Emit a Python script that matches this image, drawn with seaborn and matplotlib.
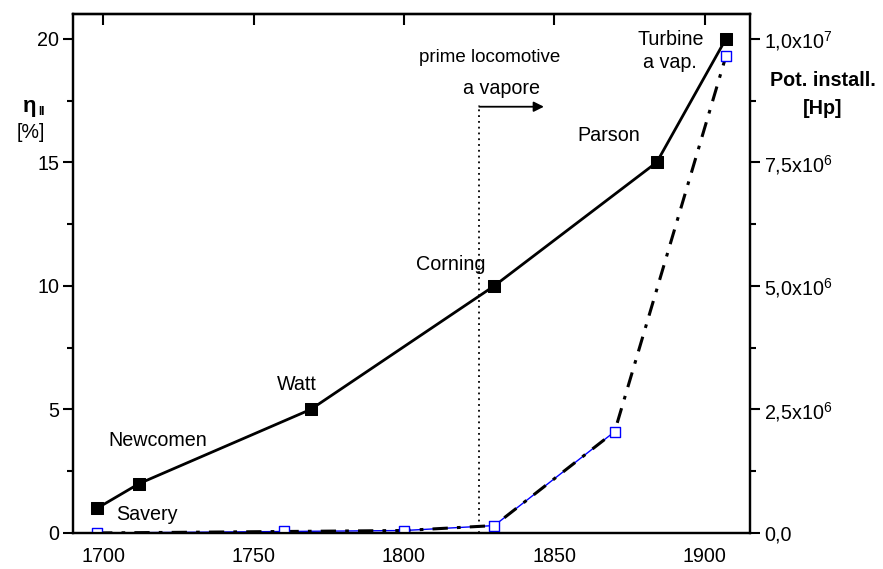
import matplotlib
matplotlib.use("Agg")
import matplotlib.pyplot as plt
import matplotlib.ticker as mticker
import pandas as pd
import seaborn as sns

# efficiency of steam engines (left axis, %)
eff_years = [1698, 1712, 1769, 1830, 1884, 1907]
eff_values = [1, 2, 5, 10, 15, 20]
eff_names = ["Savery", "Newcomen", "Watt", "Corning", "Parson", "Turbine\na vap."]

# installed power (right axis, Hp)
pow_years = [1698, 1760, 1800, 1830, 1870, 1907]
pow_values = [0.0, 0.03e6, 0.05e6, 0.15e6, 2.05e6, 9.65e6]

right_ticks = [0, 2.5e6, 5.0e6, 7.5e6, 1.0e7]
right_labels = ["0,0", r"2,5x10$^{6}$", r"5,0x10$^{6}$", r"7,5x10$^{6}$", r"1,0x10$^{7}$"]

loco_year = 1825

sns.set_style("white", rc={"text.color": "black", "axes.labelcolor": "black",
                           "xtick.color": "black", "ytick.color": "black",
                           "axes.edgecolor": "black"})
plt.rcParams["font.family"] = ["Liberation Sans", "DejaVu Sans"]
plt.rcParams["mathtext.fontset"] = "custom"
plt.rcParams["mathtext.rm"] = "Liberation Sans"

FS = 14.2

eff = pd.DataFrame({"year": eff_years, "eff": eff_values, "name": eff_names})
pw = pd.DataFrame({"year": pow_years, "power": pow_values})

fig = plt.figure(figsize=(8.83, 5.69), dpi=100)
ax = fig.add_axes([0.0827, 0.0633, 0.7667, 0.912])
ax2 = ax.twinx()

# power curve: thin blue line up to 1870, black dash-dot over everything
sns.lineplot(data=pw.iloc[:5], x="year", y="power", ax=ax2, color="blue",
             linewidth=1.0, zorder=2)
sns.lineplot(data=pw, x="year", y="power", ax=ax2, color="black",
             linewidth=2.2, zorder=3)
ax2.lines[-1].set_dashes([5, 3, 1.2, 3])
sns.scatterplot(data=pw, x="year", y="power", ax=ax2, marker="s", s=50,
                facecolor="white", edgecolor="blue", linewidth=1.0, zorder=4)

# efficiency curve
sns.lineplot(data=eff, x="year", y="eff", ax=ax, color="black", linewidth=2.0, zorder=3)
sns.scatterplot(data=eff, x="year", y="eff", ax=ax, marker="s", s=85,
                color="black", edgecolor="black", zorder=4)

ax.set_zorder(ax2.get_zorder() + 1)
ax.patch.set_visible(False)

# labels for each machine
label_pos = {
    "Savery": (1714.5, 0.75),
    "Newcomen": (1718, 3.75),
    "Watt": (1764.5, 6.0),
    "Corning": (1815.5, 10.85),
    "Parson": (1868, 16.1),
    "Turbine\na vap.": (1888.5, 19.5),
}
for name in eff_names:
    x, y = label_pos[name]
    ax.text(x, y, name, ha="center", va="center", fontsize=FS,
            linespacing=1.3)

# first steam locomotives marker
ax.plot([loco_year, loco_year], [0, 17.3], color="black", linestyle=(0, (1, 2.2)),
        linewidth=1.3, zorder=2)
ax.annotate("", xy=(1846.5, 17.25), xytext=(loco_year, 17.25),
            arrowprops=dict(arrowstyle="-|>", color="black", lw=1.3,
                            mutation_scale=15, shrinkA=0, shrinkB=0))
ax.text(1828.5, 19.25, "prime locomotive", ha="center", va="center", fontsize=13.5)
ax.text(1832.5, 18.0, "a vapore", ha="center", va="center", fontsize=FS)

ax.set_xlim(1690, 1915)
ax.set_ylim(0, 21)
ax2.set_ylim(0, 1.05e7)
ax.set_xlabel("")
ax.set_ylabel("")
ax2.set_ylabel("")

ax.xaxis.set_major_locator(mticker.MultipleLocator(50))
ax.xaxis.set_minor_locator(mticker.MultipleLocator(25))
ax.yaxis.set_major_locator(mticker.MultipleLocator(5))
ax.yaxis.set_minor_locator(mticker.MultipleLocator(2.5))
ax2.set_yticks(right_ticks)
ax2.set_yticklabels(right_labels)
ax2.yaxis.set_minor_locator(mticker.MultipleLocator(1.25e6))

for a in (ax, ax2):
    for sp in a.spines.values():
        sp.set_linewidth(1.6)
        sp.set_color("black")
ax.tick_params(which="major", direction="out", length=7, width=1.5,
               labelsize=FS, pad=3)
ax.tick_params(which="minor", direction="out", length=4, width=1.5)
ax2.tick_params(which="major", direction="out", length=7, width=1.5,
                labelsize=FS, pad=3)
ax2.tick_params(which="minor", direction="out", length=4, width=1.5)

top = ax.secondary_xaxis("top")
top.xaxis.set_major_locator(mticker.MultipleLocator(50))
top.tick_params(direction="in", length=8, width=1.5, labeltop=False)
top.spines["top"].set_linewidth(1.6)

# axis titles
fig.text(0.034, 0.812, "η", fontsize=16, fontweight="bold", ha="center", va="center")
fig.text(0.047, 0.803, "II", fontsize=8.5, fontweight="bold", ha="center", va="center")
fig.text(0.035, 0.768, "[%]", fontsize=FS, ha="center", va="center")
fig.text(0.932, 0.858, "Pot. install.", fontsize=FS, fontweight="bold",
         ha="center", va="center")
fig.text(0.932, 0.81, "[Hp]", fontsize=FS, fontweight="bold",
         ha="center", va="center")

fig.savefig("out.png", dpi=100)
plt.close(fig)
